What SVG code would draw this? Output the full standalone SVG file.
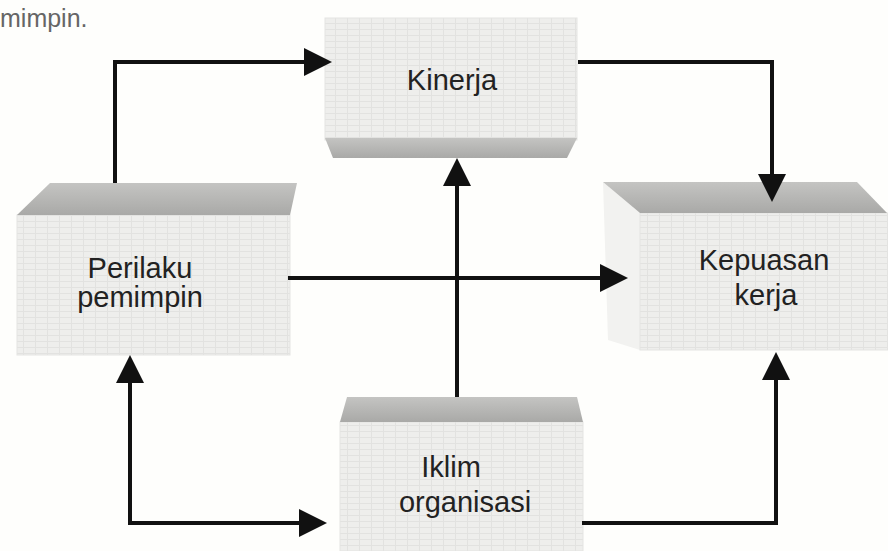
<svg xmlns="http://www.w3.org/2000/svg" width="888" height="551" viewBox="0 0 888 551">
<defs>
<pattern id="grid" width="12" height="6" patternUnits="userSpaceOnUse">
<rect width="12" height="6" fill="#eeeeec"/>
<path d="M0,5.5 H12 M11.5,0 V6" stroke="#e2e2e0" stroke-width="1"/>
</pattern>
<linearGradient id="band" x1="0" y1="0" x2="0" y2="1">
<stop offset="0" stop-color="#c4c4c2"/>
<stop offset="1" stop-color="#a9a9a7"/>
</linearGradient>
<marker id="ah" markerUnits="userSpaceOnUse" markerWidth="30" markerHeight="30" refX="6" refY="14" orient="auto-start-reverse">
<path d="M0,0 L28,14 L0,28 z" fill="#111"/>
</marker>
</defs>
<style>
.face{fill:url(#grid);stroke:#e4e4e2;stroke-width:1}
.band{fill:url(#band)}
.lbl{font-family:"Liberation Sans",Arial,sans-serif;font-size:29px;fill:#222;text-anchor:middle}
.con{fill:none;stroke:#111;stroke-width:4;stroke-linejoin:miter}
</style>
<rect width="888" height="551" fill="#fefefc"/>
<text x="0" y="27" style="font-family:'Liberation Sans',Arial,sans-serif;font-size:25px;fill:#666">mimpin.</text>

<g id="kinerja">
<rect class="face" x="325" y="18" width="252" height="122"/>
<polygon class="band" points="325,138 577,138 567,158 333,158"/>
<text class="lbl" x="452" y="90">Kinerja</text>
</g>

<g id="perilaku">
<rect class="face" x="17" y="215" width="273" height="140"/>
<polygon class="band" points="50,183 297,183 290,215 17,215"/>
<text class="lbl" x="140" y="278">Perilaku</text>
<text class="lbl" x="140" y="307">pemimpin</text>
</g>

<g id="kepuasan">
<polygon points="603,182 640,213 640,350 608,340" fill="#f2f2f0"/>
<rect class="face" x="640" y="213" width="248" height="137"/>
<polygon class="band" points="603,182 857,182 887,213 640,213"/>
<text class="lbl" x="764" y="270">Kepuasan</text>
<text class="lbl" x="766" y="305">kerja</text>
</g>

<g id="iklim">
<rect class="face" x="340" y="422" width="243" height="129"/>
<polygon class="band" points="347,397 577,397 583,422 340,422"/>
<text class="lbl" x="451" y="477">Iklim</text>
<text class="lbl" x="465" y="512">organisasi</text>
</g>

<g id="connectors">
<path class="con" d="M115,183 V62 H310" marker-end="url(#ah)"/>
<path class="con" d="M578,62 H772 V180" stroke-width="3.5" marker-end="url(#ah)"/>
<path class="con" d="M288,278 H606" stroke-width="3" marker-end="url(#ah)"/>
<path class="con" d="M457,397 V180" stroke-width="3.5" marker-end="url(#ah)"/>
<path class="con" d="M130,377 V523 H305" marker-start="url(#ah)" marker-end="url(#ah)"/>
<path class="con" d="M582,523 H776 V374" marker-end="url(#ah)"/>
</g>
</svg>
